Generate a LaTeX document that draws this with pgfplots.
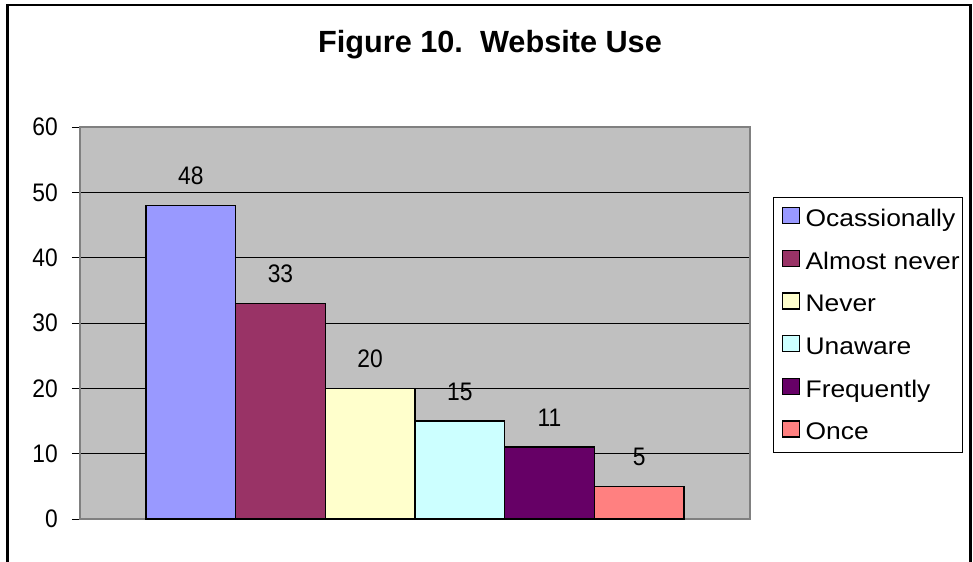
\documentclass[border=0pt]{standalone}
\usepackage{fontspec}
\setmainfont{Liberation Sans}
\newfontfamily\legfont[FakeStretch=1.1]{Liberation Sans}
\newfontfamily\numfont[FakeStretch=0.9]{Liberation Sans}
\usepackage{pgfplots}
\pgfplotsset{compat=1.18}

\definecolor{cOcc}{HTML}{9999FF}
\definecolor{cAlm}{HTML}{993366}
\definecolor{cNev}{HTML}{FFFFCC}
\definecolor{cUna}{HTML}{CCFFFF}
\definecolor{cFre}{HTML}{660066}
\definecolor{cOnc}{HTML}{FF8080}
\definecolor{cBack}{HTML}{C0C0C0}
\definecolor{cFrame}{HTML}{808080}

% legend text: fixed box, centred like the square
\newcommand{\leg}[1]{\rule[-3pt]{0pt}{12pt}\smash{#1}}

\begin{document}
\begin{tikzpicture}
\begin{axis}[%
  at={(0,0)}, anchor=south west,
  scale only axis,
  width=502.5pt, height=294pt,
  xmin=-1.236, xmax=6.236,
  ymin=0, ymax=60,
  ytick={0,10,...,60}, xtick=\empty,
  ytick pos=left,
  tick align=outside,
  major tick length=6pt,
  tick style={black, line width=0.75pt},
  ymajorgrids,
  major grid style={black, line width=0.75pt},
  axis background/.style={fill=cBack},
  axis line style={draw=cFrame, line width=1.1pt},
  /pgf/number format/assume math mode=true,
  yticklabel style={font=\numfont\fontsize{19}{22}\selectfont, inner sep=0pt, anchor=east, xshift=-10.5pt},
  ybar, bar width=1, bar shift=0pt,
  nodes near coords,
  every node near coord/.append style={font=\numfont\fontsize{19}{22}\selectfont, black, inner sep=0pt, anchor=south, yshift=15pt},
  legend cell align=left,
  legend style={at={(1.034,0.821)}, anchor=north west,
    draw=black, line width=0.75pt, fill=white,
    font=\legfont\fontsize{18}{21}\selectfont,
    inner xsep=1pt, inner ysep=7pt,
    row sep=14.8pt,
    nodes={inner xsep=1pt, inner ysep=1pt},
    /tikz/every odd column/.append style={column sep=3.25pt}},
  legend image code/.code={%
    \path (0pt,4.5pt);
    \draw[#1, draw=black, line width=0.9pt] (5.5pt,-1.5pt) rectangle (18pt,10.5pt);}
]
\addplot[fill=cOcc, draw=black, line width=1.1pt, bar shift=0pt] coordinates {(0,48)};
\addlegendentry{\leg{Ocassionally}}
\addplot[fill=cAlm, draw=black, line width=1.1pt, bar shift=0pt] coordinates {(1,33)};
\addlegendentry{\leg{Almost never}}
\addplot[fill=cNev, draw=black, line width=1.1pt, bar shift=0pt] coordinates {(2,20)};
\addlegendentry{\leg{Never}}
\addplot[fill=cUna, draw=black, line width=1.1pt, bar shift=0pt] coordinates {(3,15)};
\addlegendentry{\leg{Unaware}}
\addplot[fill=cFre, draw=black, line width=1.1pt, bar shift=0pt] coordinates {(4,11)};
\addlegendentry{\leg{Frequently}}
\addplot[fill=cOnc, draw=black, line width=1.1pt, bar shift=0pt] coordinates {(5,5)};
\addlegendentry{\leg{Once}}
\end{axis}
% frame and title, in pixel units of the reference
\begin{scope}[x=0.75pt, y=-0.75pt, shift={(-60pt,389.25pt)}]
  \draw[black, line width=1.6pt] (7.5,575) -- (7.5,5) -- (970.5,5) -- (970.5,575);
  \node[font=\bfseries\fontsize{23}{27}\selectfont, anchor=base, inner sep=0pt] at (490,53) {Figure 10.\ \ Website Use};
  \pgfresetboundingbox
  \path[use as bounding box] (0,0) rectangle (973,561);
\end{scope}
\end{tikzpicture}
\end{document}
